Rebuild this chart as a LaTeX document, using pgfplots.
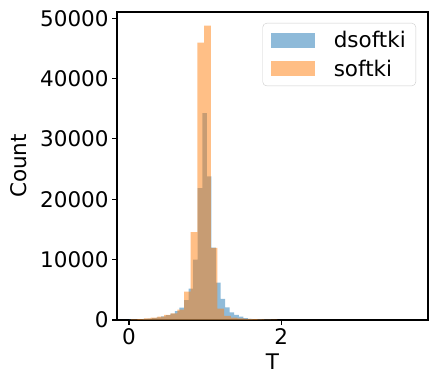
\documentclass[border=0pt]{standalone}
\usepackage{pgfplots}
\pgfplotsset{compat=1.18}
\usepackage{pgfplotstable}
\usepackage{fontspec}
\setmainfont{DejaVu Sans}

\definecolor{mplblue}{HTML}{1F77B4}
\definecolor{mplorange}{HTML}{FF7F0E}
\definecolor{legframe}{HTML}{CCCCCC}

% bin left edges, count; last row is the right edge of the last bin
\pgfplotstableread{
x y
0.003 50
0.063 80
0.123 120
0.183 170
0.243 240
0.303 330
0.363 450
0.423 600
0.483 800
0.543 1050
0.603 1450
0.663 2040
0.723 3300
0.783 5200
0.843 10010
0.903 21860
0.963 34270
1.023 23800
1.083 12000
1.143 6200
1.203 3500
1.263 2100
1.323 1260
1.383 830
1.443 550
1.503 330
1.563 170
1.623 120
1.683 90
1.743 70
1.803 50
1.863 40
1.923 40
}\dsoftki

\pgfplotstableread{
x y
0.0220 100
0.1097 150
0.1974 250
0.2851 380
0.3728 550
0.4605 830
0.5482 1100
0.6359 1700
0.7236 4700
0.8113 14550
0.8990 45940
0.9867 48770
1.0744 11960
1.1621 1900
1.2498 700
1.3375 400
1.4252 250
1.5129 200
1.6006 150
1.6883 100
1.7760 80
1.8637 60
1.9514 60
}\softki

\begin{document}
\begin{tikzpicture}
\begin{axis}[
  name=main,
  scale only axis,
  width=311pt, height=308pt,
  xmin=-0.158, xmax=3.93,
  ymin=0, ymax=51030,
  xtick={0,2},
  ytick={0,10000,20000,30000,40000,50000},
  scaled y ticks=false,
  /pgf/number format/1000 sep={},
  /pgf/number format/assume math mode=true,
  xtick pos=bottom, ytick pos=left,
  tick align=outside,
  major tick length=4.9pt,
  every tick/.style={black, line width=1.1pt},
  axis line style={line width=1.1pt},
  tick label style={font=\fontsize{21.5}{26}\selectfont},
  label style={font=\fontsize{21.5}{26}\selectfont},
  xlabel={T}, ylabel={Count},
  ylabel shift=6pt, xlabel shift=2pt,
  legend cell align=left,
  legend style={
    at={(1,1)}, anchor=north east, xshift=-12pt, yshift=-11pt,
    font=\fontsize{21.5}{26}\selectfont,
    draw=legframe, rounded corners=4pt, fill=white, fill opacity=0.8, text opacity=1,
    inner xsep=8pt, inner ysep=6pt,
    row sep=7pt,
    /tikz/every odd column/.append style={column sep=17pt},
  },
  legend image code/.code={\fill[#1, sharp corners] (0pt,-7.5pt) rectangle (44pt,7.5pt);},
]
\addplot[const plot, fill=mplblue, fill opacity=0.5, draw=none] table {\dsoftki} \closedcycle;
\addlegendentry{dsoftki}
\addplot[const plot, fill=mplorange, fill opacity=0.5, draw=none] table {\softki} \closedcycle;
\addlegendentry{softki}
\end{axis}
\pgfresetboundingbox
\path (main.south west) ++(-117pt,-65pt) rectangle ++(436pt,385pt);
\end{tikzpicture}
\end{document}
